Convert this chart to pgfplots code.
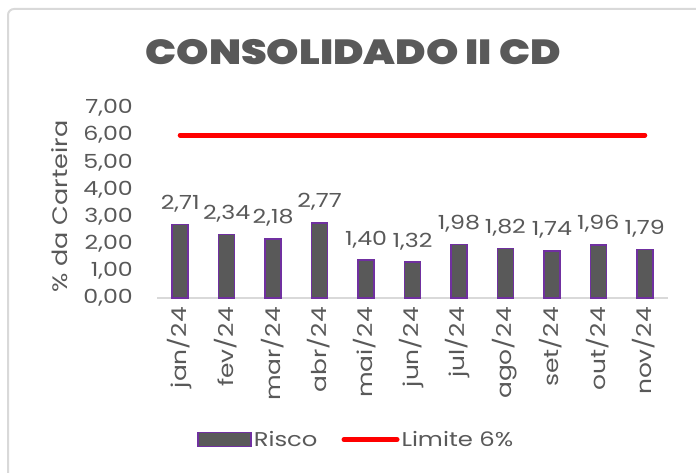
\documentclass[border=0pt]{standalone}
\usepackage{fontspec}
\setmainfont{Poppins}[FakeStretch=1.22]
\newfontfamily\titlefont{Poppins Black}[FakeStretch=1.18]
\usepackage{pgfplots}
\pgfplotsset{compat=1.18}
\definecolor{txt}{HTML}{595959}
\definecolor{barfill}{HTML}{595959}
\definecolor{barline}{HTML}{7030A0}
\definecolor{axisgray}{HTML}{D9D9D9}
\definecolor{limred}{HTML}{FF0000}
\begin{document}
\begin{tikzpicture}
\useasboundingbox (0bp,0bp) rectangle (696bp,473bp);
% chart frame (cut at right and bottom)
\draw[axisgray, line width=2bp, rounded corners=6bp] (8bp,-20bp) -- (8bp,464bp) -- (720bp,464bp);
\begin{axis}[
    at={(157bp,175bp)}, anchor=south west,
    scale only axis,
    width=511bp, height=190bp,
    xmin=-0.5, xmax=10.5,
    ymin=0, ymax=7,
    ytick={0,1,...,7},
    xtick={0,...,10},
    xticklabels={jan/24,fev/24,mar/24,abr/24,mai/24,jun/24,jul/24,ago/24,set/24,out/24,nov/24},
    axis x line*=bottom, axis y line*=left,
    y axis line style={draw=none},
    x axis line style={axisgray, line width=1.5bp},
    major tick length=0pt,
    clip=false,
    /pgf/number format/.cd, use comma, fixed, fixed zerofill, precision=2, assume math mode=true,
    /pgfplots/.cd,
    every tick label/.append style={font=\fontsize{19.5}{19.5}\selectfont, text=txt},
    yticklabel style={anchor=east, inner sep=0pt, xshift=-24bp},
    xticklabel style={rotate=90, anchor=east, inner sep=0pt, xshift=-9bp, yshift=1bp,
        font=\fontsize{20.5}{20.5}\selectfont},
    ylabel={\% da Carteira},
    ylabel style={at={(axis description cs:-0.19,0.48)}, anchor=center, font=\fontsize{21}{21}\selectfont, text=txt},
    title={\titlefont CONSOLIDADO II CD},
    title style={at={(axis description cs:0.384,1.263)}, anchor=center, font=\fontsize{35}{35}\selectfont, text=txt},
    legend style={at={(axis description cs:0.39,-0.745)}, anchor=center, draw=none, fill=none,
        legend columns=2, font=\fontsize{20}{20}\selectfont, text=txt,
        /tikz/every even column/.append style={column sep=22bp}},
]
\addplot[ybar, bar width=16bp, fill=barfill, draw=barline, line width=1.5bp,
    nodes near coords,
    nodes near coords style={font=\fontsize{19.5}{19.5}\selectfont, text=txt, anchor=south, yshift=8bp,
        /pgf/number format/.cd, use comma, fixed, fixed zerofill, precision=2, assume math mode=true},
    legend image code/.code={\draw[fill=barfill, draw=barline, line width=1.5bp] (0bp,-7bp) rectangle (53bp,7bp);}]
coordinates {
(0,2.71) (1,2.34) (2,2.18) (3,2.77) (4,1.40) (5,1.32)
(6,1.98) (7,1.82) (8,1.74) (9,1.96) (10,1.79)
};
\addlegendentry{Risco}
\addplot[limred, line width=5bp, line cap=round, mark=none,
    legend image code/.code={\draw[limred, line width=5bp, line cap=round] (2bp,0bp) -- (55bp,0bp);}]
coordinates {(0,6) (10,6)};
\addlegendentry{Limite 6\%}
\end{axis}
\end{tikzpicture}
\end{document}
